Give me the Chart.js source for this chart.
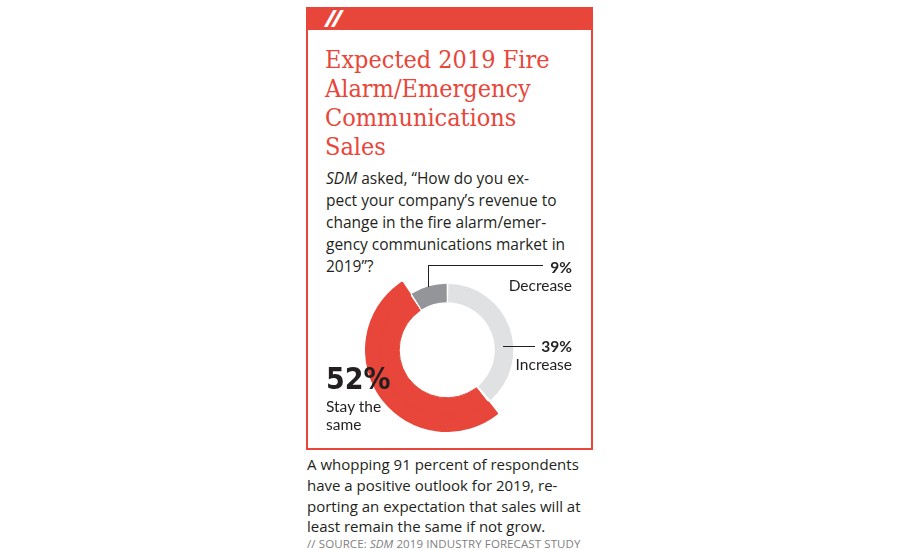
<!DOCTYPE html>
<html>
<head>
<meta charset="utf-8">
<script src="https://cdn.jsdelivr.net/npm/chart.js@4"></script>
<style>
  html,body{margin:0;padding:0;background:#fff;width:900px;height:550px;overflow:hidden;}
  .abs{position:absolute;white-space:nowrap;line-height:1.2;}
  #box{position:absolute;left:306px;top:7px;width:283px;height:439px;border:2px solid #e8463a;}
  #bar{position:absolute;left:306px;top:7px;width:287px;height:23px;background:#e8463a;}
  #slash{position:absolute;left:325px;top:4px;color:#fff;font:italic bold 24px "Open Sans",sans-serif;letter-spacing:-3px;line-height:1.2;}
  .title{font-family:"DejaVu Serif Condensed","DejaVu Serif",serif;font-size:25px;color:#e8463a;left:325px;font-weight:normal;}
  .sub{font-family:"Open Sans",sans-serif;font-size:15.5px;color:#231f20;left:326px;}
  .foot{font-family:"Open Sans",sans-serif;font-size:15px;color:#231f20;left:307px;}
  .lbl{font-family:Lato,"Open Sans",sans-serif;color:#231f20;line-height:1.2;font-size:15.5px;}
  .line{position:absolute;background:#231f20;}
  #wrap{position:absolute;left:365px;top:268px;width:164px;height:164px;}
</style>
</head>
<body>
<div id="box"></div>
<div id="bar"></div>
<div id="slash">//</div>

<div class="abs title" style="top:45px;">Expected 2019 Fire</div>
<div class="abs title" style="top:74px;">Alarm/Emergency</div>
<div class="abs title" style="top:103px;">Communications</div>
<div class="abs title" style="top:132px;">Sales</div>

<div class="abs sub" style="top:169px;"><i>SDM</i> asked, “How do you ex-</div>
<div class="abs sub" style="top:191px;">pect your company’s revenue to</div>
<div class="abs sub" style="top:213px;">change in the fire alarm/emer-</div>
<div class="abs sub" style="top:235px;">gency communications market in</div>
<div class="abs sub" style="top:257px;">2019”?</div>

<div id="wrap"><canvas id="c"></canvas></div>

<div class="line" style="left:428px;top:265px;width:115px;height:1px;"></div>
<div class="line" style="left:428px;top:265px;width:1px;height:22px;"></div>
<div class="line" style="left:503px;top:346px;width:32px;height:1px;"></div>

<div class="abs lbl" style="right:328px;top:258px;font-weight:bold;">9%</div>
<div class="abs lbl" style="right:328px;top:276px;">Decrease</div>
<div class="abs lbl" style="right:328px;top:337px;font-weight:bold;">39%</div>
<div class="abs lbl" style="right:328px;top:355px;">Increase</div>
<div class="abs lbl" style="left:326px;top:364px;font-weight:bold;font-size:30px;line-height:1;font-family:'Liberation Sans Narrow','DejaVu Sans Condensed',sans-serif;">52%</div>
<div class="abs lbl" style="left:326px;top:397px;">Stay the</div>
<div class="abs lbl" style="left:326px;top:415px;">same</div>

<div class="abs foot" style="top:455px;">A whopping 91 percent of respondents</div>
<div class="abs foot" style="top:476px;">have a positive outlook for 2019, re-</div>
<div class="abs foot" style="top:497px;">porting an expectation that sales will at</div>
<div class="abs foot" style="top:518px;line-height:1.1;">least remain the same if not grow.</div>
<div class="abs" style="left:307px;top:538px;font-family:'Open Sans',sans-serif;font-size:11.5px;letter-spacing:0.1px;color:#808080;line-height:1;">// SOURCE: <i>SDM</i> 2019 INDUSTRY FORECAST STUDY</div>

<script>
const categories = ["Increase", "Stay the same", "Decrease"];
const values = [39, 52, 9];
const colors = ["#dfe1e3", "#e8463a", "#939598"];
const emphasized = "Stay the same";

const outerColors = categories.map((c,i)=> c===emphasized ? colors[i] : "rgba(0,0,0,0)");
const outerBorderW = categories.map((c)=> c===emphasized ? 2 : 0);
const innerBorderW = categories.map((c)=> c===emphasized ? 1 : 0);

new Chart(document.getElementById("c"), {
  type: "doughnut",
  data: {
    labels: categories,
    datasets: [
      { data: values, backgroundColor: outerColors, borderColor: outerColors, borderWidth: outerBorderW, weight: 15, spacing: 2 },
      { data: values, backgroundColor: colors, borderColor: colors, borderWidth: innerBorderW, weight: 19, spacing: 2 }
    ]
  },
  options: {
    responsive: true,
    maintainAspectRatio: false,
    animation: false,
    cutout: "58.5%",
    rotation: 0,
    layout: { padding: 0 },
    plugins: { legend: { display: false }, tooltip: { enabled: false } }
  }
});
</script>
</body>
</html>
